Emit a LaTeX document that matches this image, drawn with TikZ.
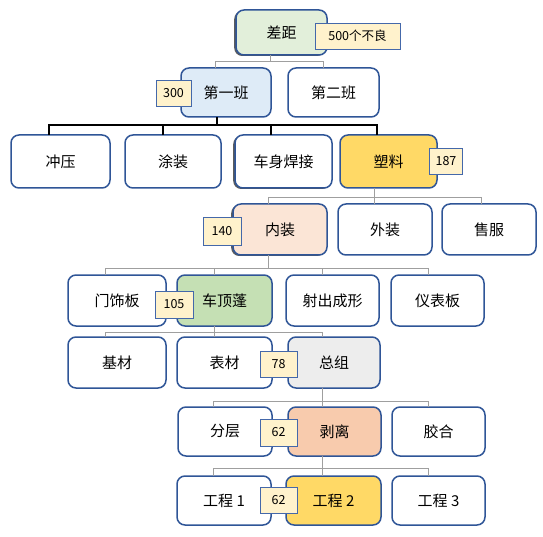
\documentclass[tikz,border=0pt]{standalone}
\usepackage{fontspec}
\newfontfamily\cjk{Noto Sans CJK SC}
\usetikzlibrary{shadows}
\definecolor{bord}{RGB}{47,85,151}
\definecolor{lbord}{RGB}{68,104,170}
\definecolor{lfill}{RGB}{255,242,204}
\definecolor{cgreen}{RGB}{226,239,218}
\definecolor{cblue}{RGB}{222,235,247}
\definecolor{cyellow}{RGB}{255,217,102}
\definecolor{cpeach}{RGB}{251,229,214}
\definecolor{cgreen2}{RGB}{197,224,180}
\definecolor{cgrey}{RGB}{237,237,237}
\definecolor{corange}{RGB}{248,203,173}
\tikzset{
  box/.style={draw=bord, line width=1.5pt, rounded corners=8pt, fill=white,
    inner sep=0pt, outer sep=0pt, font=\cjk\fontsize{15}{17}\selectfont, text=black},
  lbl/.style={draw=lbord, line width=0.9pt, fill=lfill, inner sep=0pt, outer sep=0pt,
    font=\cjk\fontsize{12.5}{14}\selectfont, text=black},
  conn/.style={draw=gray!75, line width=0.9pt},
  bconn/.style={draw=black, line width=2pt},
  lshadow/.style={drop shadow={shadow xshift=-1.8pt, shadow yshift=-1pt, opacity=0.85, fill=black!75}}
}
\begin{document}
\begin{tikzpicture}[x=1pt,y=-1pt]
\useasboundingbox (0,0) rectangle (543,537);
% boxes
\node[box, lshadow, fill=cgreen, minimum width=91, minimum height=45] (gap) at (281.5,32.5) {差距};
\node[box, fill=cblue, minimum width=90, minimum height=49] (ban1) at (226,92.5) {第一班};
\node[box, minimum width=91, minimum height=49] (ban2) at (333.5,92.5) {第二班};
\node[box, minimum width=99, minimum height=53] (chongya) at (60.5,161.5) {冲压};
\node[box, minimum width=96, minimum height=53] (tuzhuang) at (173,161.5) {涂装};
\node[box, lshadow, minimum width=97, minimum height=53] (cheshen) at (283.5,161.5) {车身焊接};
\node[box, fill=cyellow, minimum width=97, minimum height=53] (suliao) at (388.5,161.5) {塑料};
\node[box, lshadow, fill=cpeach, minimum width=94, minimum height=51] (neizhuang) at (280,229.5) {内装};
\node[box, minimum width=94, minimum height=51] (waizhuang) at (385,229.5) {外装};
\node[box, minimum width=94, minimum height=51] (shoufu) at (489,229.5) {售服};
\node[box, minimum width=98, minimum height=51] (menshi) at (117,300.5) {门饰板};
\node[box, fill=cgreen2, minimum width=95, minimum height=51] (dingpeng) at (224.5,300.5) {车顶蓬};
\node[box, minimum width=93, minimum height=51] (shechu) at (332.5,300.5) {射出成形};
\node[box, minimum width=93, minimum height=51] (yibiao) at (437.5,300.5) {仪表板};
\node[box, minimum width=98, minimum height=51] (jicai) at (117,362.5) {基材};
\node[box, minimum width=95, minimum height=51] (biaocai) at (224.5,362.5) {表材};
\node[box, fill=cgrey, minimum width=92, minimum height=51] (zongzu) at (334,362.5) {总组};
\node[box, minimum width=94, minimum height=49] (fenceng) at (225,431.5) {分层};
\node[box, fill=corange, minimum width=93, minimum height=49] (boli) at (334.5,431.5) {剥离};
\node[box, minimum width=93, minimum height=49] (jiaohe) at (438.5,431.5) {胶合};
\node[box, minimum width=94, minimum height=49] (gc1) at (224,500.5) {工程 1};
\node[box, fill=cyellow, minimum width=95, minimum height=49] (gc2) at (333.5,500.5) {工程 2};
\node[box, minimum width=93, minimum height=49] (gc3) at (438.5,500.5) {工程 3};
% connectors
\draw[conn] ([xshift=-11.5pt]gap.south) -- ++(0,6);
\draw[conn] ([xshift=-11pt]ban1.north) -- ++(0,-7) -| ([xshift=-10.5pt]ban2.north);
\draw[bconn] ([xshift=-9pt]ban1.south) -- ++(0,8);
\draw[bconn] ([xshift=-12pt]chongya.north) -- ++(0,-10) -| ([xshift=-11.5pt]suliao.north);
\draw[bconn] ([xshift=-10pt]tuzhuang.north) -- ++(0,-10);
\draw[bconn] ([xshift=-12.5pt]cheshen.north) -- ++(0,-10);
\draw[conn] ([xshift=-14.5pt]suliao.south) -- ++(0,9);
\draw[conn] ([xshift=-12pt]neizhuang.north) -- ++(0,-7) -| ([xshift=-8pt]shoufu.north);
\draw[conn] ([xshift=-11pt]waizhuang.north) -- ++(0,-7);
\draw[conn] ([xshift=-12pt]neizhuang.south) -- ++(0,13);
\draw[conn] ([xshift=-12pt]menshi.north) -- ++(0,-7) -| ([xshift=-9.5pt]yibiao.north);
\draw[conn] ([xshift=-10.5pt]dingpeng.north) -- ++(0,-7);
\draw[conn] ([xshift=-10.5pt]shechu.north) -- ++(0,-7);
\draw[conn] ([xshift=-10.5pt]dingpeng.south) -- ++(0,6);
\draw[conn] ([xshift=-12pt]jicai.north) -- ++(0,-5) -| ([xshift=-12pt]zongzu.north);
\draw[conn] ([xshift=-10.5pt]biaocai.north) -- ++(0,-5);
\draw[conn] ([xshift=-12pt]zongzu.south) -- ++(0,13);
\draw[conn] ([xshift=-12pt]fenceng.north) -- ++(0,-6) -| ([xshift=-10.5pt]jiaohe.north);
\draw[conn] ([xshift=-12.5pt]boli.north) -- ++(0,-6);
\draw[conn] ([xshift=-12.5pt]boli.south) -- ++(0,12);
\draw[conn] ([xshift=-11pt]gc1.north) -- ++(0,-8) -| ([xshift=-10.5pt]gc3.north);
\draw[conn] ([xshift=-11.5pt]gc2.north) -- ++(0,-8);
% labels
\node[lbl, minimum width=85, minimum height=26] (l500) at (357.5,36) {500个不良};
\node[lbl, minimum width=35, minimum height=26] (l300) at (173.5,93) {300};
\node[lbl, minimum width=33, minimum height=26] (l187) at (446,161.5) {187};
\node[lbl, minimum width=38, minimum height=28] (l140) at (222,231) {140};
\node[lbl, minimum width=38, minimum height=27] (l105) at (174,304.5) {105};
\node[lbl, minimum width=37, minimum height=26] (l78) at (278.5,364) {78};
\node[lbl, minimum width=37, minimum height=27] (l62a) at (278.5,432.5) {62};
\node[lbl, minimum width=37, minimum height=26] (l62b) at (278.5,500) {62};
\end{tikzpicture}
\end{document}
